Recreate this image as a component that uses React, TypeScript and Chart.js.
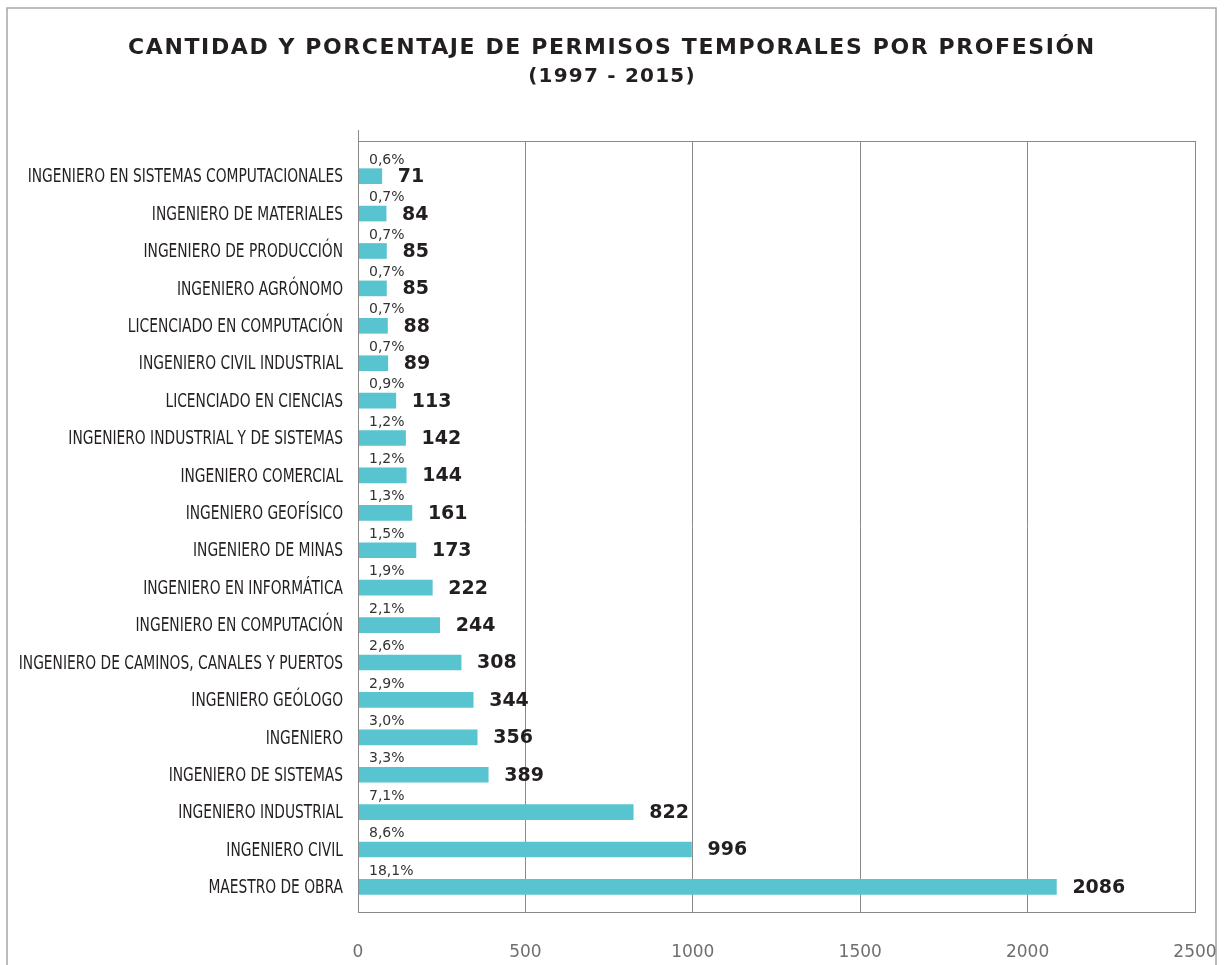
import React, { useEffect, useRef } from "react";
import { Chart, registerables } from "chart.js";

Chart.register(...registerables);

const categories: string[] = [
  "INGENIERO EN SISTEMAS COMPUTACIONALES",
  "INGENIERO DE MATERIALES",
  "INGENIERO DE PRODUCCIÓN",
  "INGENIERO AGRÓNOMO",
  "LICENCIADO EN COMPUTACIÓN",
  "INGENIERO CIVIL INDUSTRIAL",
  "LICENCIADO EN CIENCIAS",
  "INGENIERO INDUSTRIAL Y DE SISTEMAS",
  "INGENIERO COMERCIAL",
  "INGENIERO GEOFÍSICO",
  "INGENIERO DE MINAS",
  "INGENIERO EN INFORMÁTICA",
  "INGENIERO EN COMPUTACIÓN",
  "INGENIERO DE CAMINOS, CANALES Y PUERTOS",
  "INGENIERO GEÓLOGO",
  "INGENIERO",
  "INGENIERO DE SISTEMAS",
  "INGENIERO INDUSTRIAL",
  "INGENIERO CIVIL",
  "MAESTRO DE OBRA",
];

const counts: number[] = [71, 84, 85, 85, 88, 89, 113, 142, 144, 161, 173, 222, 244, 308, 344, 356, 389, 822, 996, 2086];

const percents: number[] = [0.6, 0.7, 0.7, 0.7, 0.7, 0.7, 0.9, 1.2, 1.2, 1.3, 1.5, 1.9, 2.1, 2.6, 2.9, 3.0, 3.3, 7.1, 8.6, 18.1];

const xTicks: number[] = [0, 500, 1000, 1500, 2000, 2500];

const titleText = "CANTIDAD Y PORCENTAJE DE PERMISOS TEMPORALES POR PROFESIÓN";
const subtitleText = "(1997 - 2015)";

const BAR_COLOR = "#57C4CF";
const DARK = "#231F20";
const GRID = "#8a8a8a";

const decorPlugin = {
  id: "decor",
  beforeDraw(chart: any) {
    const ctx = chart.ctx;
    ctx.save();
    ctx.fillStyle = "#ffffff";
    ctx.fillRect(0, 0, chart.width, chart.height);
    ctx.strokeStyle = "#a6a6a6";
    ctx.lineWidth = 1.5;
    ctx.strokeRect(7, 8, 1209, chart.height + 20);

    // title + subtitle
    ctx.fillStyle = DARK;
    ctx.textAlign = "center";
    ctx.textBaseline = "middle";
    ctx.font = "bold 22px 'DejaVu Sans'";
    (ctx as any).letterSpacing = "1.6px";
    ctx.fillText(titleText, 612, 48);
    ctx.font = "bold 20px 'DejaVu Sans'";
    (ctx as any).letterSpacing = "1.2px";
    ctx.fillText(subtitleText, 612, 77);
    (ctx as any).letterSpacing = "0px";
    ctx.restore();
  },
  afterDraw(chart: any) {
    const ctx = chart.ctx;
    const a = chart.chartArea;
    const yScale = chart.scales.y;
    ctx.save();
    ctx.strokeStyle = GRID;
    ctx.lineWidth = 1;
    ctx.strokeRect(Math.round(a.left) + 0.5, Math.round(a.top) + 0.5, Math.round(a.right - a.left), Math.round(a.bottom - a.top));
    ctx.beginPath();
    ctx.moveTo(Math.round(a.left) + 0.5, a.top - 11);
    ctx.lineTo(Math.round(a.left) + 0.5, a.top);
    ctx.stroke();

    // category labels (condensed)
    categories.forEach((name, i) => {
      const y = yScale.getPixelForValue(i);
      ctx.save();
      ctx.translate(a.left - 15, y + 1);
      ctx.scale(0.69, 1);
      ctx.font = "20px 'DejaVu Sans'";
      ctx.fillStyle = DARK;
      ctx.textAlign = "right";
      ctx.textBaseline = "middle";
      ctx.fillText(name, 0, 0);
      ctx.restore();
    });

    const meta = chart.getDatasetMeta(0);
    meta.data.forEach((bar: any, i: number) => {
      const yC = bar.y;
      ctx.font = "14px 'DejaVu Sans'";
      ctx.fillStyle = "#333333";
      ctx.textAlign = "left";
      ctx.textBaseline = "middle";
      ctx.fillText(percents[i].toFixed(1).replace(".", ",") + "%", a.left + 11, yC - 16);

      ctx.font = "bold 19px 'DejaVu Sans'";
      ctx.fillStyle = DARK;
      ctx.fillText(String(counts[i]), bar.x + 16, yC + 1);
    });
    ctx.restore();
  },
};

export default function App() {
  const canvasRef = useRef<HTMLCanvasElement | null>(null);

  useEffect(() => {
    if (!canvasRef.current) return;
    const chart = new Chart(canvasRef.current, {
      type: "bar",
      data: {
        datasets: [
          {
            label: "Permisos",
            data: counts.map((v, i) => ({ x: v, y: i })),
            backgroundColor: BAR_COLOR,
            borderWidth: 0,
            barThickness: 15,
          },
        ],
      },
      plugins: [decorPlugin],
      options: {
        indexAxis: "y",
        animation: false,
        responsive: false,
        maintainAspectRatio: false,
        layout: { padding: { left: 0, right: 0, top: 141, bottom: 0 } },
        plugins: {
          legend: { display: false },
          tooltip: { enabled: false },
          title: { display: false },
        },
        scales: {
          x: {
            type: "linear",
            position: "bottom",
            min: 0,
            max: 2500,
            afterBuildTicks: (scale: any) => {
              scale.ticks = xTicks.map((v) => ({ value: v }));
            },
            afterFit: (scale: any) => {
              scale.height = 53;
              scale.paddingRight = 30;
              scale.paddingLeft = 0;
            },
            grid: { color: GRID, drawTicks: false, lineWidth: 1 },
            border: { display: true, color: GRID },
            ticks: {
              color: "#6f6f6f",
              padding: 30,
              font: { family: "'DejaVu Sans'", size: 17 },
              callback: (value: any) => String(value),
            },
          },
          y: {
            type: "linear",
            reverse: true,
            offset: false,
            bounds: "data",
            min: -0.94,
            max: 19.67,
            afterBuildTicks: (scale: any) => {
              scale.ticks = categories.map((_, i) => ({ value: i }));
            },
            afterFit: (scale: any) => {
              scale.width = 358;
              scale.paddingTop = 0;
              scale.paddingBottom = 0;
            },
            grid: { display: false, drawTicks: false },
            border: { display: true, color: GRID },
            ticks: {
              autoSkip: false,
              padding: 14,
              callback: () => "",
            },
          },
        },
      },
    } as any);
    return () => chart.destroy();
  }, []);

  return (
    <div style={{ position: "absolute", left: 0, top: 0, width: 1225, height: 965, background: "#fff" }}>
      <canvas ref={canvasRef} width={1225} height={965} style={{ display: "block" }} />
    </div>
  );
}
